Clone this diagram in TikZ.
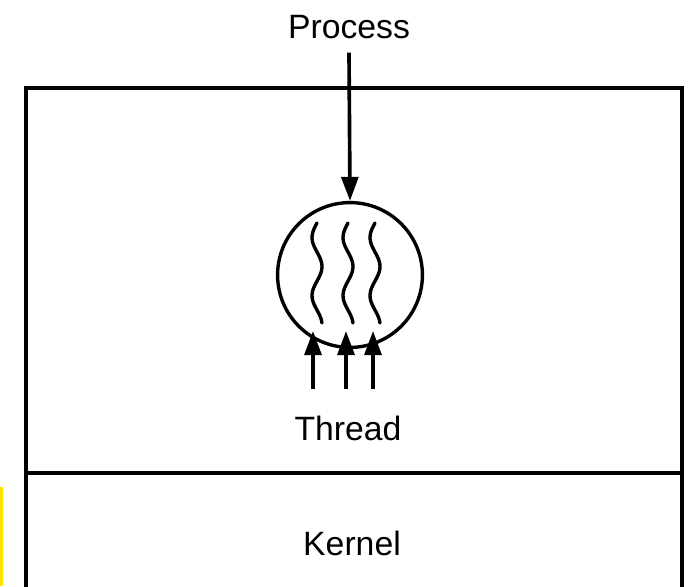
\documentclass[tikz,border=0pt]{standalone}
\usepackage{fontspec}
\setmainfont{Liberation Sans}
\usetikzlibrary{arrows.meta,positioning}
\definecolor{mark_yellow}{RGB}{255, 228, 0}

\begin{document}
\begin{tikzpicture}[
    % Styles
    x=0.025cm, y=-0.025cm,
    line width=2.6pt,
    >={Triangle[length=0.6cm,width=0.42cm]},
    label_text/.style={
        font=\fontsize{24}{28}\selectfont,
        inner sep=0pt,
        anchor=center
    },
    proc_circle/.style={
        circle,
        draw=black,
        line width=2.4pt,
        minimum size=3.62cm,
        inner sep=0pt
    },
    thread_line/.style={
        line width=2.4pt,
        line cap=round
    }
]
\useasboundingbox (0,0) rectangle (688,586);

% --- LAYOUT ---
\fill[mark_yellow] (0,487) rectangle (3,586);

% user space / kernel space frame
\draw (26,590) -- (26,88) -- (682,88) -- (682,590);
\draw (26,473) -- (682,473);

% labels
\node[label_text] (process) at (349,27) {Process};
\node[label_text] (thread) at (348,428) {Thread};
\node[label_text] (kernel) at (352,543) {Kernel};

% process circle
\node[proc_circle] (proc) at (350,275) {};

% --- ARROWS ---
\draw[->] (process.south) ++(0,12) coordinate (ptop) -- (proc.north);

% threads inside the process
\foreach \wx in {317,348,375}
    \draw[thread_line] plot[domain=0:100, samples=40, smooth, variable=\t]
        ({\wx - 5*sin(\t*6.2)}, {223+\t});

% thread arrows
\foreach \ax/\nm in {313/ta,346/tb,373/tc} {
    \coordinate (\nm_base) at (\ax,389);
    \coordinate (\nm_tip) at (\ax,331);
    \draw[->] (\nm_base) -- (\nm_tip);
}

\end{tikzpicture}
\end{document}
